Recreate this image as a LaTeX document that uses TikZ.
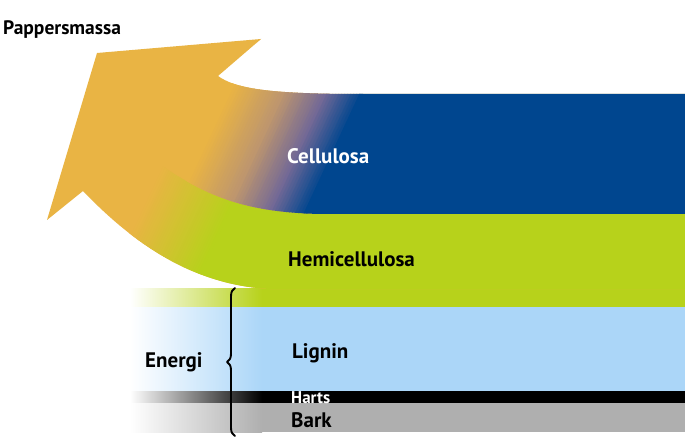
\documentclass[tikz,border=0pt]{standalone}
\usepackage{fontspec}
\setmainfont{PT Sans}
\usetikzlibrary{calc,decorations.pathreplacing,positioning}
\definecolor{massaorange}{RGB}{233,180,68}
\definecolor{celblue}{RGB}{0,70,143}
\definecolor{gradA}{RGB}{190,150,110}
\definecolor{gradB}{RGB}{115,105,150}
\definecolor{hemigreen}{RGB}{183,210,27}
\definecolor{ligninblue}{RGB}{171,214,248}
\definecolor{barkgray}{RGB}{175,175,175}
\tikzset{flow/.style={
  x=1pt,y=-1pt,
  line join=round,line cap=round
},
  label/.style={anchor=base west,inner sep=0pt,font=\bfseries\fontsize{21}{24}\selectfont}
}

\begin{document}
\begin{tikzpicture}[flow]
  \useasboundingbox[fill=white] (0,0) rectangle (685,438);
  \coordinate (N1) at (218,76);
  \coordinate (R) at (261,39);
  \coordinate (T) at (97,53);
  \coordinate (L) at (47,220);
  \coordinate (N2) at (83,191);
  \coordinate (G) at (270,289);
  \coordinate (C) at (360,94);
  \coordinate (braceTop) at (235,288);
  \coordinate (braceBot) at (235,436);

  % lower bands, fading out to the left
  \shade[left color=white,right color=hemigreen] (130,288) rectangle (262,307);
  \fill[hemigreen] (262,288) rectangle (685,307);
  \shade[left color=white,right color=ligninblue] (130,307) rectangle (262,391);
  \fill[ligninblue] (262,307) rectangle (685,391);
  \shade[left color=white,right color=black] (130,391) rectangle (262,403);
  \fill[black] (262,391) rectangle (685,403);
  \shade[left color=white,right color=barkgray] (130,403) rectangle (262,432);
  \fill[barkgray] (262,403) rectangle (685,432);

  % the arrow
  \begin{scope}
    \clip (N1) -- (R) -- (T) -- (L) -- (N2) .. controls (130,240) and (190,285) .. (G)
      -- (685,289) -- (685,94) -- (C) .. controls (265,94) and (235,88) .. (N1) -- cycle;
    \fill[massaorange] (0,0) rectangle (685,438);
    % hemicellulosa, slanted blend from orange
    \begin{scope}
      \clip (0,60) -- (140,150) .. controls (200,195) and (240,212) .. (320,214)
        -- (700,214) -- (700,440) -- (0,440) -- cycle;
      \foreach \i in {0,...,35}{
        \pgfmathsetmacro{\xa}{145+2.5*\i}
        \pgfmathtruncatemacro{\p}{\i*100/35}
        \fill[hemigreen!\p!massaorange] (\xa+93.3,0) -- (\xa+96.3,0) -- (\xa-109,440) -- (\xa-112,440) -- cycle;
      }
      \fill[hemigreen] (235+93.3,0) -- (700,0) -- (700,440) -- (235-112,440) -- cycle;
    \end{scope}
    % cellulosa, slanted blend from orange
    \begin{scope}
      \clip (R) -- (700,30) -- (700,214) -- (320,214) .. controls (240,212) and (200,195) .. (140,150) -- cycle;
      \foreach \i in {0,...,44}{
        \pgfmathsetmacro{\xa}{206+3*\i}
        \pgfmathtruncatemacro{\t}{\i*100/44}
        \ifnum\t<40
          \pgfmathtruncatemacro{\p}{\t*100/40}\colorlet{stripc}{gradA!\p!massaorange}
        \else\ifnum\t<72
          \pgfmathtruncatemacro{\p}{(\t-40)*100/32}\colorlet{stripc}{gradB!\p!gradA}
        \else
          \pgfmathtruncatemacro{\p}{(\t-72)*100/28}\colorlet{stripc}{celblue!\p!gradB}
        \fi\fi
        \fill[stripc] (\xa+65.3,0) -- (\xa+68.8,0) -- (\xa-136.5,440) -- (\xa-140,440) -- cycle;
      }
      \fill[celblue] (338+65.3,0) -- (700,0) -- (700,440) -- (338-140,440) -- cycle;
    \end{scope}
  \end{scope}

  \draw[line width=1.9pt,decorate,decoration={brace,amplitude=8pt}] (braceBot) -- (braceTop);

  \node[label,font=\bfseries\fontsize{19.5}{22}\selectfont] (pappers) at (3,35) {Pappersmassa};
  \node[label,white] (cellulosa) at (287,164) {Cellulosa};
  \node[label] (hemi) at (288,267) {Hemicellulosa};
  \node[label] (lignin) at (292,358) {Lignin};
  \node[label] (energi) at (145,367) {Energi};
  \node[label,white,font=\bfseries\fontsize{17}{18}\selectfont] (harts) at (291,403) {Harts};
  \node[label] (bark) at (291,427) {Bark};
\end{tikzpicture}
\end{document}
